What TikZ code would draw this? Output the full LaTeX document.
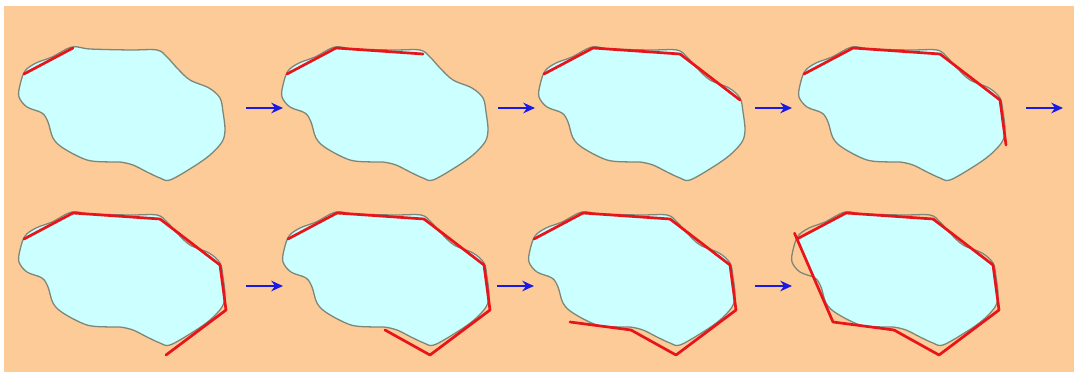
\documentclass[tikz,border=0pt]{standalone}
\usepackage{xcolor}
\usepackage{tikz}
\usetikzlibrary{arrows.meta,calc}
\definecolor{peach}{HTML}{FDCB98}
\definecolor{icecyan}{HTML}{CCFFFF}
\definecolor{shoregrey}{HTML}{7D8777}
\definecolor{hullred}{HTML}{E8141A}
\definecolor{stepblue}{HTML}{1A1AE6}
\def\blobpath{plot[smooth cycle,tension=0.55] coordinates {(25,71) (36,63) (52,57) (72,47) (90,49) (130,50) (157,50) (167,57) (177,68) (190,80) (209,88) (220,98) (223,112) (225,130) (222,142) (210,155) (193,167) (170,180) (160,178) (147,172) (133,165) (120,162) (110,162) (87,160) (63,148) (53,138) (48,122) (42,113) (27,107) (19,97) (20,85)}}

\begin{document}
\begin{tikzpicture}[x=0.03cm,y=-0.03cm,
  blobfill/.style={fill=icecyan},
  blobline/.style={draw=shoregrey,line width=1.1pt},
  hulledge/.style={draw=hullred,line width=2.3pt,line cap=round},
  steparrow/.style={-{Stealth[length=10pt,width=9pt]},draw=stepblue,line width=1.8pt}]
\useasboundingbox (0,0) rectangle (1074,374);
\fill[white] (0,0) rectangle (1074,374);
\fill[peach] (4,6) rectangle (1074,372);
% one panel per step, k hull edges drawn
\foreach \dx/\dy/\k in {0/0/1, 263/0/2, 520/0/3, 780/0/4, 0/165/5, 264/165/6, 510/165/7, 773/165/8} {
  \begin{scope}[shift={(\dx,\dy)}]
    \foreach \nm/\px/\py in {v1/24/74, v2/73/48, v3/160/54, v4/220/100, v5/226/145, v6/166/190, v7/121/165, v8/60/157}
      \coordinate (\nm) at (\px,\py);
    \ifnum\k<8
      \path[blobfill] \blobpath;
    \else
      \begin{scope}
        \clip (v1) -- (v2) -- (v3) -- (v4) -- (v5) -- (v6) -- (v7) -- (v8) -- cycle;
        \path[blobfill] \blobpath;
      \end{scope}
    \fi
    \path[blobline] \blobpath;
    \foreach \i in {1,...,\k} {
      \pgfmathtruncatemacro\j{mod(\i,8)+1}
      \pgfmathsetmacro\ext{\i==8 ? 1.07 : 1}
      \draw[hulledge] (v\i) -- ($(v\i)!\ext!(v\j)$);
    }
  \end{scope}
}
% arrows between the steps
\foreach \ax/\ay [count=\n] in {246/108, 498/108, 755/108, 1026/108, 246/286, 497/286, 755/286} {
  \coordinate (s\n) at (\ax,\ay);
  \coordinate (t\n) at (\ax+37,\ay);
  \draw[steparrow] (s\n) -- (t\n);
}
\end{tikzpicture}
\end{document}
